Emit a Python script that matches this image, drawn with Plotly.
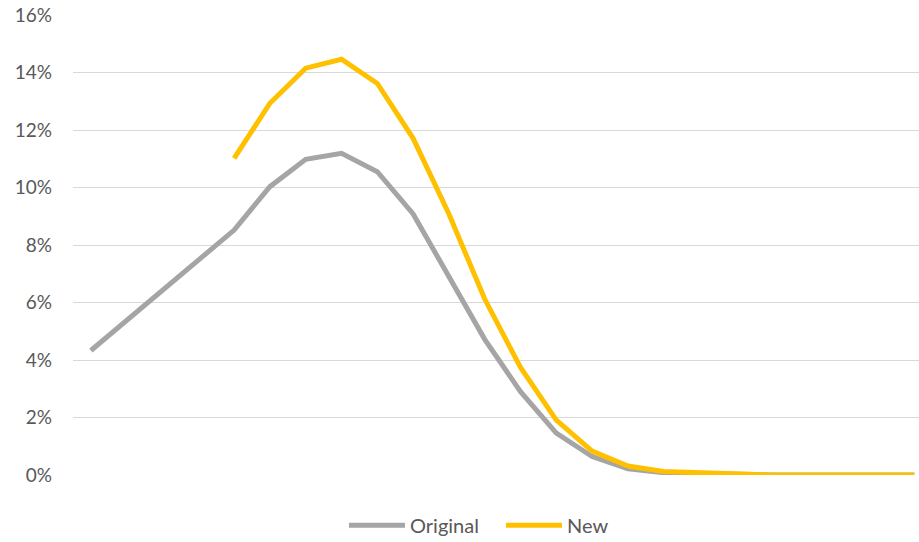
import plotly.graph_objects as go

# Share of observations per bucket (fractions), 24 buckets
buckets = list(range(24))
original = [0.0433, 0.0538, 0.0643, 0.0745, 0.0852, 0.1003, 0.1098, 0.1119,
            0.1055, 0.0908, 0.0692, 0.0472, 0.0290, 0.0146, 0.0064, 0.0022,
            0.0008, 0.0004, 0.0001, 0.0, 0.0, 0.0, 0.0, 0.0]
new = [None, None, None, None, 0.1101, 0.1293, 0.1415, 0.1446,
       0.1362, 0.1171, 0.0908, 0.0612, 0.0374, 0.0191, 0.0083, 0.0031,
       0.0012, 0.0007, 0.0002, 0.0, 0.0, 0.0, 0.0, 0.0]
series_names = ["Original", "New"]
series_colors = ["#A5A5A5", "#FFC000"]
y_ticks = [0, 0.02, 0.04, 0.06, 0.08, 0.10, 0.12, 0.14, 0.16]

FONT = "Lato, 'Liberation Sans', sans-serif"
LABEL = "#595959"

fig = go.Figure()
for name, values, color in zip(series_names, [original, new], series_colors):
    fig.add_trace(go.Scatter(
        x=buckets, y=values, name=name, mode="lines",
        line=dict(color=color, width=5, shape="linear"),
        connectgaps=False, showlegend=False,
    ))

# Legend below the plot: a line sample followed by the series name
legend_y = -0.109
legend_slots = [(0.3262, 0.3924), (0.5118, 0.5780)]
for (x0, x1), name, color in zip(legend_slots, series_names, series_colors):
    fig.add_shape(type="line", xref="paper", yref="paper",
                  x0=x0, x1=x1, y0=legend_y, y1=legend_y,
                  line=dict(color=color, width=5))
    fig.add_annotation(xref="paper", yref="paper", x=x1 + 0.003, y=legend_y,
                       text=name, showarrow=False, xanchor="left",
                       yanchor="middle",
                       font=dict(family=FONT, size=20, color=LABEL))

fig.update_layout(
    width=919, height=542,
    margin=dict(l=73, r=0, t=15, b=67),
    paper_bgcolor="white", plot_bgcolor="white",
    font=dict(family=FONT, size=19, color=LABEL),
    showlegend=False,
    xaxis=dict(
        range=[-0.5, 23.13], showgrid=False, zeroline=False,
        showticklabels=False, ticks="", showline=False, fixedrange=True,
    ),
    yaxis=dict(
        range=[0, 0.16], tickvals=y_ticks, tickformat=".0%",
        showgrid=True, gridcolor="#D9D9D9", gridwidth=1.3,
        zeroline=False, showline=False, ticks="",
        ticklabelstandoff=20,
        tickfont=dict(family=FONT, size=19, color=LABEL),
    ),
)

fig.write_html("out.html")
